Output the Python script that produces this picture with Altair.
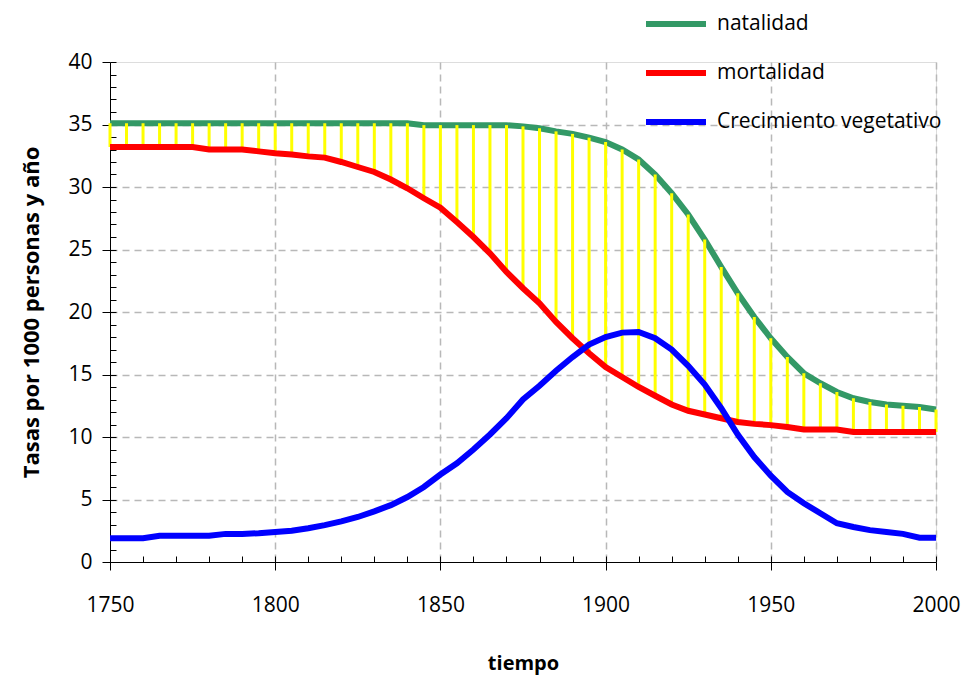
import altair as alt
import pandas as pd

years = list(range(1750, 2001, 5))

natalidad = [35.1] * 19 + [
    34.95, 34.95, 34.95, 34.95, 34.95, 34.95, 34.85, 34.7, 34.45, 34.25,
    33.95, 33.6, 33.0, 32.2, 31.0, 29.5, 27.8, 25.8, 23.6, 21.5,
    19.6, 17.9, 16.4, 15.1, 14.3, 13.6, 13.1, 12.8, 12.6, 12.5,
    12.4, 12.2]

mortalidad = [
    33.2, 33.2, 33.2, 33.2, 33.2, 33.2, 33.0, 33.0, 33.0, 32.85,
    32.7, 32.6, 32.45, 32.35, 32.0, 31.6, 31.2, 30.6, 29.9, 29.1,
    28.35, 27.2, 26.0, 24.7, 23.2, 21.9, 20.7, 19.2, 17.9, 16.7,
    15.6, 14.8, 14.0, 13.3, 12.6, 12.1, 11.8, 11.5, 11.2, 11.05,
    10.95, 10.8, 10.6, 10.6, 10.6, 10.4, 10.4, 10.4, 10.4, 10.4,
    10.4]

crecimiento = [
    1.9, 1.9, 1.9, 2.1, 2.1, 2.1, 2.1, 2.25, 2.25, 2.3,
    2.4, 2.5, 2.7, 2.95, 3.25, 3.6, 4.05, 4.55, 5.2, 6.0,
    7.0, 7.9, 9.0, 10.2, 11.5, 13.0, 14.1, 15.3, 16.4, 17.4,
    18.0, 18.35, 18.4, 17.9, 17.0, 15.7, 14.2, 12.3, 10.2, 8.4,
    6.9, 5.6, 4.7, 3.9, 3.1, 2.8, 2.55, 2.4, 2.25, 1.95,
    1.95]

series_names = ["natalidad", "mortalidad", "Crecimiento vegetativo"]
series_colors = ["#339966", "#ff0000", "#0000ff"]

x_major = [1750, 1800, 1850, 1900, 1950, 2000]
x_minor = list(range(1750, 2001, 10))
x_grid = [1800, 1850, 1900, 1950, 2000]
y_major = list(range(0, 41, 5))
y_minor = list(range(0, 41, 1))
y_grid = list(range(5, 36, 5))

FONT = "Open Sans"

wide = pd.DataFrame({"year": years, "natalidad": natalidad,
                     "mortalidad": mortalidad, "Crecimiento vegetativo": crecimiento})
long = wide.melt("year", var_name="serie", value_name="v")

xscale = alt.Scale(domain=[1750, 2000], nice=False, zero=False)
yscale = alt.Scale(domain=[0, 40], nice=False)
cscale = alt.Scale(domain=series_names, range=series_colors)

x_main = alt.Axis(values=x_major, format="d", labelFontSize=21, labelPadding=24,
                  labelFlush=False, labelOverlap=False,
                  tickSize=8, tickColor="black", domainColor="black", grid=False,
                  title="tiempo", titleFontSize=20, titleFontWeight="bold",
                  titlePadding=38, labelFont=FONT, titleFont=FONT, labelColor="black",
                  titleColor="black")
y_main = alt.Axis(values=y_major, labelFontSize=21, labelPadding=10, tickSize=8,
                  labelFlush=False, labelOverlap=False,
                  tickColor="black", domainColor="black", grid=False,
                  title="Tasas por 1000 personas y año", titleFontSize=22,
                  titleFontWeight="bold", titlePadding=24, labelFont=FONT,
                  titleFont=FONT, labelColor="black", titleColor="black", orient="left")

x_minor_ax = alt.Axis(values=x_minor, labels=False, domain=False, grid=False, tickSize=6,
                      offset=-6, tickColor="black", title=None, orient="bottom")
y_minor_ax = alt.Axis(values=y_minor, labels=False, domain=False, grid=False, tickSize=6,
                      offset=-6, tickColor="black", title=None, orient="left")

x_grid_ax = alt.Axis(values=x_grid, labels=False, domain=False, ticks=False, grid=True,
                     gridDash=[7, 5], gridColor="#b8b8b8", gridWidth=1.5, title=None,
                     orient="bottom")
y_grid_ax = alt.Axis(values=y_grid, labels=False, domain=False, ticks=False, grid=True,
                     gridDash=[7, 5], gridColor="#b8b8b8", gridWidth=1.5, title=None,
                     orient="left")

legend = alt.Legend(title=None, orient="none", legendX=533, legendY=-71,
                    symbolType="stroke", symbolSize=3600, symbolStrokeWidth=6,
                    labelFontSize=21, labelFont=FONT, labelColor="black",
                    rowPadding=4, padding=0, labelOffset=8, labelLimit=400)

green = alt.Chart(long).transform_filter(alt.datum.serie == "natalidad").mark_line(
    strokeWidth=6).encode(
    x=alt.X("year:Q", scale=xscale, axis=x_main),
    y=alt.Y("v:Q", scale=yscale, axis=y_main),
    color=alt.Color("serie:N", scale=cscale, legend=legend, sort=series_names),
)

rules = alt.Chart(wide).mark_rule(color="#ffff00", strokeWidth=3).encode(
    x=alt.X("year:Q", scale=xscale, axis=x_minor_ax),
    y=alt.Y("mortalidad:Q", scale=yscale, axis=y_minor_ax),
    y2="natalidad:Q",
)

red = alt.Chart(long).transform_filter(alt.datum.serie == "mortalidad").mark_line(
    strokeWidth=6).encode(
    x=alt.X("year:Q", scale=xscale, axis=x_grid_ax),
    y=alt.Y("v:Q", scale=yscale, axis=y_grid_ax),
    color=alt.Color("serie:N", scale=cscale, legend=legend, sort=series_names),
)

blue = alt.Chart(long).transform_filter(
    alt.datum.serie == "Crecimiento vegetativo").mark_line(strokeWidth=6).encode(
    x=alt.X("year:Q", scale=xscale, axis=None),
    y=alt.Y("v:Q", scale=yscale, axis=None),
    color=alt.Color("serie:N", scale=cscale, legend=legend, sort=series_names),
)

chart = alt.layer(green, rules, red, blue).resolve_axis(
    x="independent", y="independent"
).properties(
    width=826, height=500,
    padding={"left": 102, "top": 54, "right": 25, "bottom": 116},
    autosize=alt.AutoSizeParams(type="none"),
).configure_view(stroke=None).configure(font=FONT)

chart.save("out.html", embed_options={"renderer": "svg", "actions": False})
